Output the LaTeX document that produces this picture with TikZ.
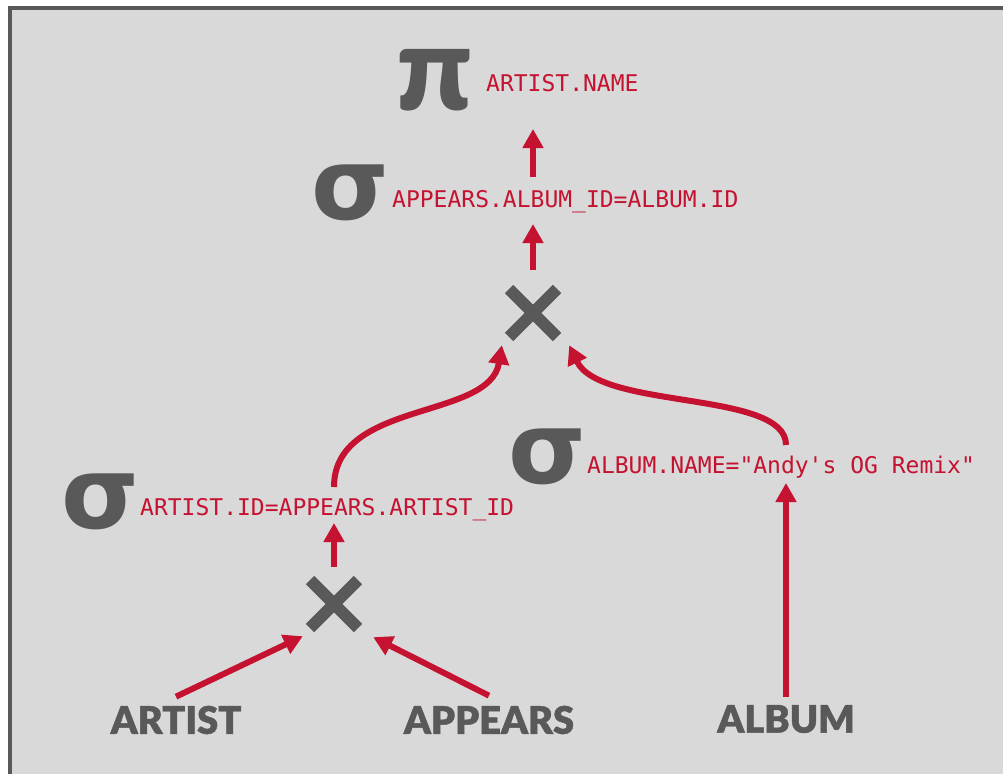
\documentclass[tikz,border=0pt]{standalone}
\usepackage{fontspec}
\usepackage{xcolor}
\usetikzlibrary{arrows.meta}
\newfontfamily\condfont{DejaVu Sans Mono}
\newfontfamily\symfont{DejaVu Sans}
\newfontfamily\tablefont{Lato Black}[FakeBold=1.2]
\newfontfamily\pifont{Lato Black}
\definecolor{slidegray}{HTML}{D9D9D9}
\definecolor{opgray}{HTML}{595959}
\definecolor{crimson}{HTML}{C41230}

\begin{document}
\begin{tikzpicture}[
  x=1pt, y=-1pt,
  opsym/.style={inner sep=0pt, text=opgray,
                font=\symfont\bfseries\fontsize{100}{100}\selectfont},
  cond/.style={inner sep=0pt, anchor=base west, text=crimson,
               font=\condfont\fontsize{23}{23}\selectfont},
  tbl/.style={inner sep=0pt, text=opgray,
              font=\tablefont\fontsize{38}{38}\selectfont},
  crossop/.style={minimum size=58pt, inner sep=0pt,
    path picture={\draw[line width=12pt, draw=opgray]
      ([shift={(-24,-24)}]path picture bounding box.center) -- ([shift={(24,24)}]path picture bounding box.center)
      ([shift={(-24,24)}]path picture bounding box.center) -- ([shift={(24,-24)}]path picture bounding box.center);}},
  arrow/.style={-{Triangle[length=19pt,width=20pt]}, line width=6pt, draw=crimson}
]
\useasboundingbox (0,0) rectangle (1003,773);
\fill[white] (0,0) rectangle (1003,773);
\draw[line width=4pt, draw=opgray, fill=slidegray] (10,8) rectangle (1020,790);

\node[opsym, font=\pifont\fontsize{118}{118}\selectfont] (pi) at (435,80) {π};
\node[cond] (picond) at (486,92) {ARTIST.NAME};

\node[opsym] (sel1) at (350,193) {σ};
\node[cond] (sel1cond) at (392,207) {APPEARS.ALBUM\_ID=ALBUM.ID};

\node[crossop] (join1) at (533,313) {};

\node[opsym] (sel2) at (100,502) {σ};
\node[cond] (sel2cond) at (140,515) {ARTIST.ID=APPEARS.ARTIST\_ID};

\node[opsym] (sel3) at (547,457) {σ};
\node[cond] (sel3cond) at (587,473) {ALBUM.NAME="Andy's OG Remix"};

\node[crossop] (join2) at (334,604) {};

\node[tbl] (artist) at (176,720) {ARTIST};
\node[tbl] (appears) at (489,720) {APPEARS};
\node[tbl] (album) at (786,719) {ALBUM};

\draw[arrow] ([yshift=30pt]join1 |- sel1cond.base) -- ([yshift=-37pt]join1 |- picond.base);
\draw[arrow] ([yshift=14pt]join1.north) -- ([yshift=-17pt]join1 |- sel1cond.base);
\draw[arrow] ([yshift=28pt]join2 |- sel2cond.base) .. controls +(0,-87) and +(-12,75) .. ([xshift=-2pt,yshift=-3pt]join1.south west);
\draw[arrow] ([yshift=28pt]album |- sel3cond.base) .. controls +(0,-55) and +(31,65) .. ([xshift=7pt,yshift=-3pt]join1.south east);
\draw[arrow] ([yshift=8pt]join2.north) -- ([yshift=-8pt]join2 |- sel2cond.base);
\draw[arrow] ([yshift=9pt]artist.north) -- ([xshift=-2pt,yshift=-3pt]join2.south west);
\draw[arrow] ([yshift=10pt]appears.north) -- ([xshift=10pt,yshift=-4pt]join2.south east);
\draw[arrow] ([yshift=8pt]album.north) -- ([yshift=-10pt]album |- sel3cond.base);
\end{tikzpicture}
\end{document}
